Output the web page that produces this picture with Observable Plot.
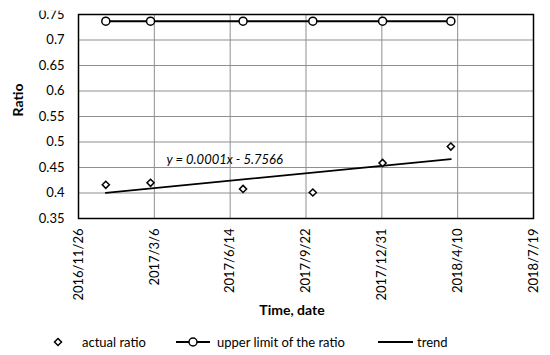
<!DOCTYPE html>
<html><head><meta charset="utf-8">
<script src="https://cdn.jsdelivr.net/npm/d3@7"></script>
<script src="https://cdn.jsdelivr.net/npm/@observablehq/plot@0.6"></script>
<style>
body{margin:0;background:#fff;font-family:Lato,sans-serif;}
#wrap{position:relative;width:550px;height:355px;overflow:hidden;}
#wrap svg.plot{display:block;overflow:visible;}
.lg{position:absolute;top:328px;height:27px;display:flex;align-items:center;font-size:13px;color:#000;white-space:nowrap;}
</style></head><body><div id="wrap"></div>
<script>
// ---- data ----
const dates = ["2017-01-01","2017-03-01","2017-07-01","2017-10-01","2018-01-01","2018-04-01"];
const actualRatio = [0.416,0.420,0.408,0.401,0.459,0.491];
const upperLimit = [0.737,0.737,0.737,0.737,0.737,0.737];
const xTickLabels = ["2016/11/26","2017/3/6","2017/6/14","2017/9/22","2017/12/31","2018/4/10","2018/7/19"];
const yTicks = [0.35,0.4,0.45,0.5,0.55,0.6,0.65,0.7,0.75];
const seriesNames = ["actual ratio","upper limit of the ratio","trend"];
const yTitle = "Ratio";
const xTitle = "Time, date";
const equation = {text:"y = 0.0001x - 5.7566", date:"2017-03-22", value:0.466};

// ---- build ----
const parse = d3.utcParse("%Y-%m-%d");
const parseTick = d3.utcParse("%Y/%m/%d");
const xTicks = xTickLabels.map(parseTick);
const data = dates.map((d,i)=>({date:parse(d), actual:actualRatio[i], upper:upperLimit[i]}));
const xs = data.map(d=>+d.date);
const mx = d3.mean(xs), my = d3.mean(actualRatio);
const slope = d3.sum(xs,(x,i)=>(x-mx)*(actualRatio[i]-my))/d3.sum(xs,x=>(x-mx)**2);
const trend = [data[0], data[data.length-1]].map(d=>({date:d.date, value:my+slope*(+d.date-mx)}));
const fmt = d=>`${d.getUTCFullYear()}/${d.getUTCMonth()+1}/${d.getUTCDate()}`;

const chart = Plot.plot({
  width:550, height:328,
  marginLeft:78, marginRight:17, marginTop:14, marginBottom:110,
  style:{fontFamily:"Lato, sans-serif", fontSize:"13px", color:"#000", background:"#fff", overflow:"visible"},
  x:{type:"utc", domain:[xTicks[0], xTicks[xTicks.length-1]], axis:null},
  y:{domain:[yTicks[0], yTicks[yTicks.length-1]], axis:null},
  marks:[
    Plot.gridX(xTicks,{stroke:"#8f8f8f", strokeOpacity:1, strokeWidth:1}),
    Plot.gridY(yTicks,{stroke:"#8f8f8f", strokeOpacity:1, strokeWidth:1}),
    Plot.text(yTicks,{y:d=>d, frameAnchor:"left", dx:-14, textAnchor:"end", text:d=>String(d), fontSize:13, fill:"#000"}),
    Plot.text(xTicks,{x:d=>d, frameAnchor:"bottom", dy:10, rotate:-90, textAnchor:"end", lineAnchor:"middle", text:fmt, fontSize:13, fill:"#000"}),
    Plot.text([equation],{x:d=>parse(d.date), y:"value", text:"text", textAnchor:"start", fontStyle:"italic", fontSize:13, className:"eq"}),
    Plot.line(trend,{x:"date", y:"value", stroke:"#000", strokeWidth:1.8}),
    Plot.line(data,{x:"date", y:"upper", stroke:"#000", strokeWidth:2}),
    Plot.dot(data,{x:"date", y:"upper", r:4, fill:"#fff", stroke:"#000", strokeWidth:1.5}),
    Plot.dot(data,{x:"date", y:"actual", symbol:"diamond2", r:3.2, fill:"#fff", stroke:"#000", strokeWidth:1.5}),
    Plot.frame({stroke:"#000", strokeWidth:1.5}),
    Plot.text([yTitle],{frameAnchor:"left", dx:-60, rotate:-90, fontWeight:"bold", fontSize:14}),
    Plot.text([xTitle],{frameAnchor:"bottom", dy:96, dx:-14, fontWeight:"bold", fontSize:14})
  ]
});
const wrap = document.getElementById("wrap");
wrap.appendChild(chart);

// white box behind the equation label
const eqG = chart.querySelector("g.eq");
if (eqG) {
  const t = eqG.querySelector("text");
  const b = t.getBBox();
  const r = document.createElementNS("http://www.w3.org/2000/svg","rect");
  r.setAttribute("x", b.x-6); r.setAttribute("y", b.y-3);
  r.setAttribute("width", b.width+12); r.setAttribute("height", b.height+6);
  r.setAttribute("fill", "#fff");
  eqG.insertBefore(r, eqG.firstChild);
}

// legend
const items = [
  {left:52, sym:`<svg width="12" height="12"><path d="M6,2.5L9.5,6L6,9.5L2.5,6Z" fill="#fff" stroke="#000" stroke-width="1.5"/></svg>`, textLeft:82, label:seriesNames[0]},
  {left:176, sym:`<svg width="34" height="12"><line x1="0" y1="6" x2="34" y2="6" stroke="#000" stroke-width="2"/><circle cx="17" cy="6" r="4" fill="#fff" stroke="#000" stroke-width="1.5"/></svg>`, textLeft:217, label:seriesNames[1]},
  {left:378, sym:`<svg width="35" height="12"><line x1="0" y1="6" x2="35" y2="6" stroke="#000" stroke-width="1.8"/></svg>`, textLeft:417, label:seriesNames[2]}
];
for (const it of items) {
  const s = document.createElement("div"); s.className="lg"; s.style.left=it.left+"px"; s.innerHTML=it.sym; wrap.appendChild(s);
  const t = document.createElement("div"); t.className="lg"; t.style.left=it.textLeft+"px"; t.textContent=it.label; wrap.appendChild(t);
}
</script></body></html>
